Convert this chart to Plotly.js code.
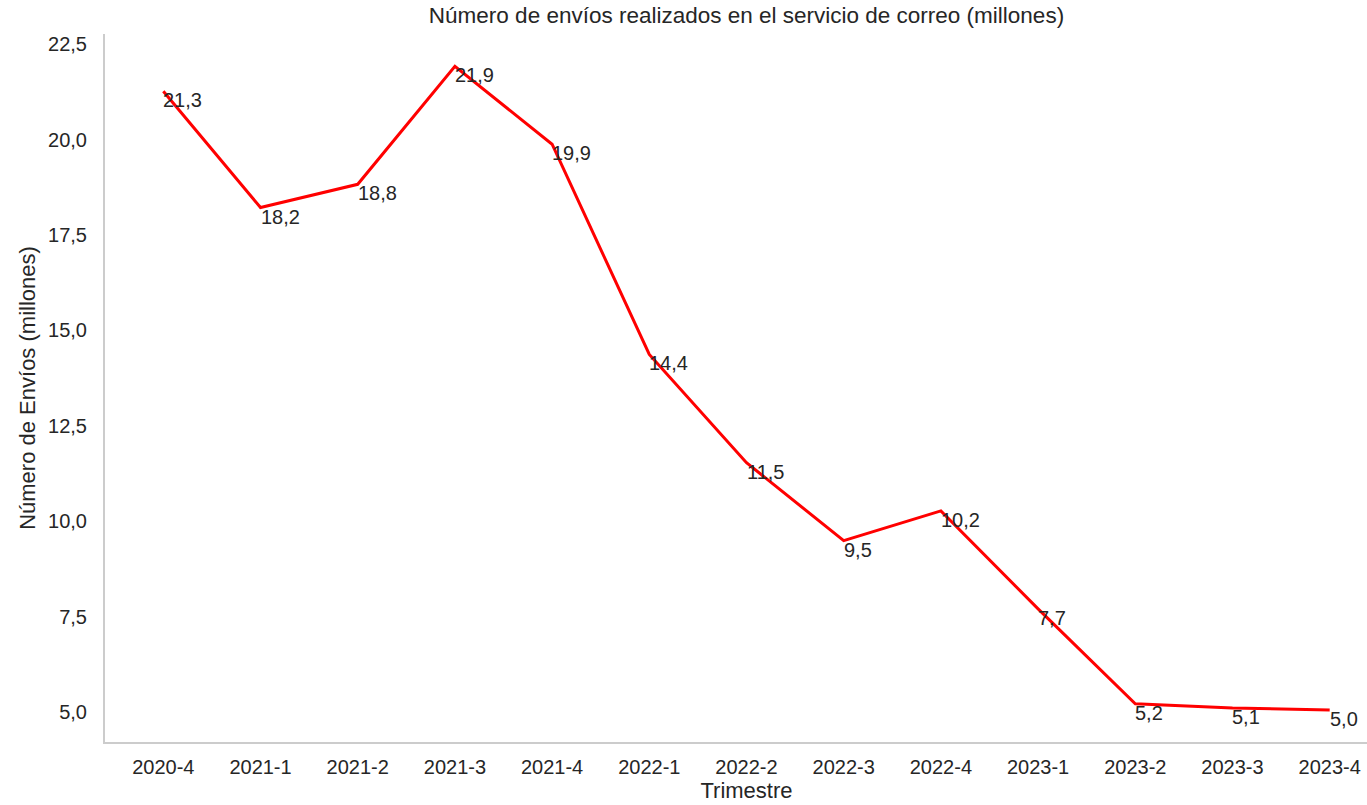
<!DOCTYPE html>
<html>
<head>
<meta charset="utf-8">
<script src="https://cdn.plot.ly/plotly-3.0.1.min.js"></script>
<style>html,body{margin:0;padding:0;overflow:hidden;background:#fff;}</style>
</head>
<body>
<div id="chart"></div>
<script>
const trimestres = ["2020-4","2021-1","2021-2","2021-3","2021-4","2022-1","2022-2","2022-3","2022-4","2023-1","2023-2","2023-3","2023-4"];
const envios = [21.27, 18.22, 18.83, 21.92, 19.88, 14.37, 11.53, 9.49, 10.27, 7.70, 5.21, 5.10, 5.05];
const etiquetas = ["21,3","18,2","18,8","21,9","19,9","14,4","11,5","9,5","10,2","7,7","5,2","5,1","5,0"];
const yTicks = [5, 7.5, 10, 12.5, 15, 17.5, 20, 22.5];

const textColor = "#262626";
const fontFam = "Liberation Sans, Arial, sans-serif";

const trace = {
  x: trimestres, y: envios, type: "scatter", mode: "lines",
  line: {color: "#ff0000", width: 3}, hoverinfo: "skip"
};

const annotations = trimestres.map((t, i) => ({
  x: t, y: envios[i], xref: "x", yref: "y", text: etiquetas[i],
  showarrow: false, xanchor: "left", yanchor: "top", xshift: -2, yshift: 4,
  font: {family: fontFam, size: 20, color: textColor}
}));

const layout = {
  width: 1388, height: 805,
  margin: {l: 105, r: 0, t: 34, b: 63},
  paper_bgcolor: "#fff", plot_bgcolor: "#fff",
  separators: ",.",
  showlegend: false,
  font: {family: fontFam, color: textColor},
  title: {text: "Número de envíos realizados en el servicio de correo (millones)",
          font: {family: fontFam, size: 22.5, color: textColor},
          x: 0.5, xref: "paper", y: 0.981, yanchor: "middle"},
  xaxis: {
    type: "category", range: [-0.6, 12.6], showgrid: false, zeroline: false,
    showline: true, linecolor: "#cccccc", linewidth: 2,
    ticks: "outside", ticklen: 6, tickcolor: "rgba(0,0,0,0)",
    tickfont: {family: fontFam, size: 20, color: textColor},
    title: {text: "Trimestre", font: {family: fontFam, size: 22, color: textColor}, standoff: 6}
  },
  yaxis: {
    range: [4.21, 22.77], showgrid: false, zeroline: false,
    showline: true, linecolor: "#cccccc", linewidth: 2,
    tickvals: yTicks, tickformat: ".1f",
    ticks: "outside", ticklen: 12, tickcolor: "rgba(0,0,0,0)",
    tickfont: {family: fontFam, size: 20, color: textColor},
    title: {text: "Número de Envíos (millones)", font: {family: fontFam, size: 22, color: textColor}, standoff: 6}
  },
  annotations: annotations
};

Plotly.newPlot("chart", [trace], layout, {displayModeBar: false, staticPlot: true});
</script>
</body>
</html>
